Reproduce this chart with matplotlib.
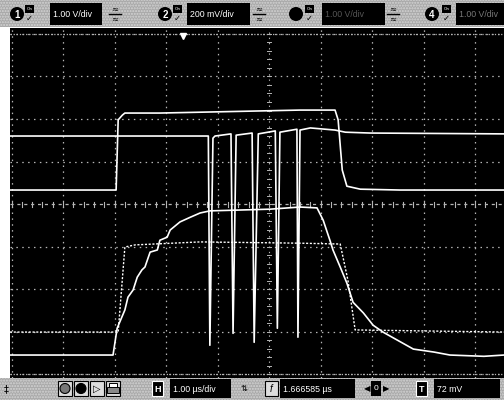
import numpy as np
import matplotlib
matplotlib.use("Agg")
import matplotlib.pyplot as plt
from matplotlib.patches import Rectangle, Circle

# ---------------- data (time in µs from screen centre, level in divisions) ----
ch1_t = [-5.03, -2.97, -2.93, -2.85, -2.80, -2.12, -1.34, -0.17, 0.60, 1.28,
         1.34, 1.42, 1.51, 1.77, 2.54, 3.51, 4.56]
ch1_v = [0.33, 0.33, 1.98, 2.09, 2.14, 2.14, 2.16, 2.19, 2.21, 2.21,
         1.98, 0.80, 0.42, 0.35, 0.33, 0.33, 0.33]

ch2_t = [-5.03, -3.28, -1.18, -1.15, -1.09, -1.05, -0.74, -0.70, -0.64, -0.33,
         -0.29, -0.21, 0.12, 0.16, 0.21, 0.54, 0.56, 0.60, 0.80, 1.28, 1.48,
         1.96, 4.56]
ch2_v = [1.60, 1.60, 1.60, -3.32, 1.55, 1.60, 1.65, -3.04, 1.62, 1.67,
         -3.25, 1.65, 1.72, -2.92, 1.69, 1.76, -3.13, 1.74, 1.79, 1.74, 1.69,
         1.67, 1.65]

ch3_t = [-5.03, -3.03, -2.95, -2.80, -2.74, -2.64, -2.56, -2.47, -2.41, -2.31,
         -2.17, -2.12, -1.98, -1.92, -1.73, -1.53, -1.34, -1.15, -0.56, 0.02,
         0.60, 0.93, 1.05, 1.18, 1.24, 1.38, 1.51, 1.63, 1.83, 2.02, 2.21,
         2.49, 2.80, 3.20, 3.51, 4.17, 4.56]
ch3_v = [-3.55, -3.55, -2.92, -2.49, -2.19, -2.02, -1.72, -1.55, -1.48, -1.13,
         -1.08, -0.85, -0.78, -0.61, -0.42, -0.31, -0.21, -0.16, -0.14, -0.12,
         -0.07, -0.09, -0.38, -0.85, -1.08, -1.48, -1.86, -2.31, -2.56, -2.85,
         -3.01, -3.20, -3.41, -3.48, -3.55, -3.58, -3.55]

ch4_t = [-5.03, -2.93, -2.80, -2.60, -1.34, 0.60, 1.38, 1.53, 1.67, 4.56]
ch4_v = [-3.01, -3.01, -1.01, -0.96, -0.89, -0.92, -0.94, -1.79, -2.96, -3.01]

trig_t = -1.67

top_labels = ["1.00 V/div", "200 mV/div", "1.00 V/div", "1.00 V/div"]
chan_nums = ["1", "2", "3", "4"]
time_label = "1.00 µs/div"
pos_label = "1.666585 µs"
trig_label = "72 mV"

# ---------------- figure ----------------
W, H = 504, 400
fig = plt.figure(figsize=(W / 100, H / 100), dpi=100, facecolor="white")

ov = fig.add_axes([0, 0, 1, 1])
ov.set_xlim(0, W)
ov.set_ylim(H, 0)
ov.axis("off")

bar_col = "#a9a9a9"
for (y0, hh) in ((0, 27), (378, 22)):
    ov.add_patch(Rectangle((0, y0), W, hh, facecolor=bar_col,
                           edgecolor="#d4d4d4", lw=0, hatch="......",
                           zorder=1))

font = "Liberation Sans"

def black_box(x0, x1, y0, y1, text, tcol="white", fs=6.3):
    ov.add_patch(Rectangle((x0, y0), x1 - x0, y1 - y0, facecolor="black",
                           edgecolor="none", zorder=3))
    ov.text(x0 + 3, (y0 + y1) / 2 + 0.5, text, color=tcol, fontsize=fs,
            family=font, va="center", ha="left", zorder=4)

def chan_circle(cx, num, show=True):
    ov.add_patch(Circle((cx, 14), 7, facecolor="black", edgecolor="none",
                        zorder=3))
    if show:
        ov.text(cx, 14.5, num, color="white", fontsize=7, family=font,
                weight="bold", ha="center", va="center", zorder=4)

def on_icon(x):
    ov.add_patch(Rectangle((x, 5), 9, 8, facecolor="black", zorder=3))
    ov.text(x + 4.5, 9.2, "On", color="white", fontsize=3.2, ha="center",
            va="center", zorder=4, family=font)
    ov.text(x + 4.5, 18.5, "✓", color="black", fontsize=6, ha="center",
            va="center", zorder=4, family="DejaVu Sans", weight="bold")

def coupling_icon(x):
    ov.text(x + 7, 9, "≈", color="black", fontsize=6, ha="center",
            va="center", zorder=4, family="DejaVu Sans")
    ov.plot([x + 1, x + 13], [14, 14], color="black", lw=1.0, zorder=4)
    ov.text(x + 7, 19, "≈", color="black", fontsize=6, ha="center",
            va="center", zorder=4, family="DejaVu Sans")

chan_circle(17, chan_nums[0])
on_icon(25)
black_box(50, 102, 3, 25, top_labels[0])
coupling_icon(108)
chan_circle(165, chan_nums[1])
on_icon(173)
black_box(187, 250, 3, 25, top_labels[1])
coupling_icon(252)
chan_circle(296, chan_nums[2], show=False)
on_icon(305)
black_box(322, 385, 3, 25, top_labels[2], tcol="#555555")
coupling_icon(386)
chan_circle(432, chan_nums[3])
on_icon(442)
black_box(456, 504, 3, 25, top_labels[3], tcol="#777777")

# bottom bar
ov.text(6, 389, "‡", color="black", fontsize=7, ha="center", va="center",
        family="DejaVu Sans", zorder=4)
for i, fc in enumerate(["#777777", "black", "white", "white"]):
    cx = 65 + i * 16
    ov.add_patch(Rectangle((cx - 7, 381), 14, 15, facecolor="#dddddd",
                           edgecolor="black", lw=0.8, zorder=3))
    if i < 2:
        ov.add_patch(Circle((cx, 388.5), 5, facecolor=fc, edgecolor="black",
                            lw=0.8, zorder=4))
ov.text(97, 388.5, "▷", color="black", fontsize=7, ha="center", va="center",
        family="DejaVu Sans", zorder=5)
# printer icon drawn as shapes
ov.add_patch(Rectangle((109, 383), 8, 5, facecolor="white", edgecolor="black",
                       lw=0.7, zorder=5))
ov.add_patch(Rectangle((107, 387), 12, 6, facecolor="#888888",
                       edgecolor="black", lw=0.7, zorder=5))

def letter_box(x, ch):
    ov.add_patch(Rectangle((x, 381), 11, 15, facecolor="black",
                           edgecolor="white", lw=0.8, zorder=3))
    ov.text(x + 5.5, 389, ch, color="white", fontsize=6.5, ha="center",
            va="center", family=font, weight="bold", zorder=4)

letter_box(152, "H")
black_box(170, 231, 379, 398, time_label)
ov.text(244, 388.5, "⇅", color="black", fontsize=6, ha="center",
        va="center", family="DejaVu Sans", zorder=4)
ov.add_patch(Rectangle((265, 381), 13, 15, facecolor="#dddddd",
                       edgecolor="black", lw=0.8, zorder=3))
ov.text(271.5, 389, "f", color="black", fontsize=7, ha="center", va="center",
        family=font, style="italic", zorder=4)
black_box(280, 355, 379, 398, pos_label)
ov.text(367, 389, "◀", color="black", fontsize=6, ha="center", va="center",
        family="DejaVu Sans", zorder=4)
ov.add_patch(Rectangle((371, 381), 10, 15, facecolor="black", zorder=3))
ov.text(376, 389, "0", color="white", fontsize=6, ha="center", va="center",
        family=font, zorder=4)
ov.text(386, 389, "▶", color="black", fontsize=6, ha="center", va="center",
        family="DejaVu Sans", zorder=4)
letter_box(416, "T")
black_box(434, 500, 379, 398, trig_label)

# ---------------- scope screen ----------------
ax = fig.add_axes([10 / W, 22 / H, 494 / W, 350 / H], facecolor="black")
ax.set_xlim(-5.03, 4.56)
ax.set_ylim(-4.09, 4.14)
ax.set_xticks([])
ax.set_yticks([])
for s in ax.spines.values():
    s.set_visible(False)

gcol = "#b5b5b5"
for v in range(-4, 5):
    if v == 0:
        continue
    ax.axhline(v, color=gcol, lw=0.9, ls=(0, (1.2, 3.5)), zorder=1)
for t in range(-5, 5):
    if t == 0:
        continue
    ax.axvline(t, color=gcol, lw=0.9, ls=(0, (1.2, 3.5)), zorder=1)
ax.axhline(0, color=gcol, lw=0.9, ls=(0, (2.5, 3)), zorder=1)
ax.axvline(0, color=gcol, lw=0.8, ls=(0, (1.2, 3.5)), zorder=1)
for t in np.arange(-5, 4.6, 0.2):
    ax.plot([t, t], [-0.06, 0.06], color=gcol, lw=0.8, zorder=1)
for v in np.arange(-4, 4.2, 0.2):
    ax.plot([-0.04, 0.04], [v, v], color=gcol, lw=0.7, zorder=1)
for v in (4, -4):
    ax.axhline(v, color=gcol, lw=0.9, ls=(0, (1, 1.5)), zorder=1)

# traces
ax.plot(ch4_t, ch4_v, color="white", lw=1.0, ls=(0, (1.5, 1.2)), zorder=2)
ax.plot(ch1_t, ch1_v, color="white", lw=1.2, zorder=3)
ax.plot(ch2_t, ch2_v, color="white", lw=1.2, zorder=3)
ax.plot(ch3_t, ch3_v, color="white", lw=1.2, zorder=3)

ax.plot([trig_t], [3.95], marker="v", color="white", markersize=5, zorder=4)

fig.savefig("out.png", dpi=100, facecolor="white")
